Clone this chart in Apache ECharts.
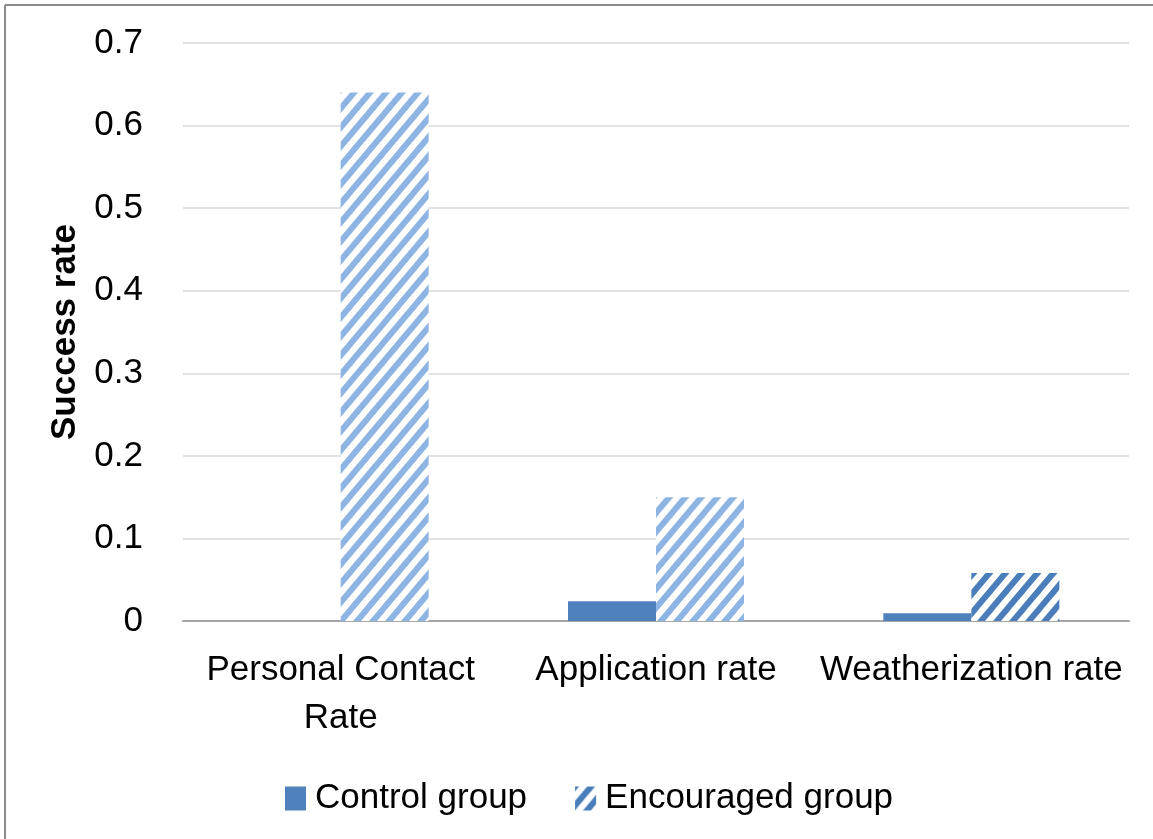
<!DOCTYPE html>
<html>
<head>
<meta charset="utf-8">
<script src="https://cdn.jsdelivr.net/npm/echarts@6/dist/echarts.min.js"></script>
<style>
html,body{margin:0;padding:0;background:#fff;}
#chart{width:1153px;height:839px;}
</style>
</head>
<body>
<div id="chart"></div>
<script>
const categories = ['Personal Contact\nRate', 'Application rate', 'Weatherization rate'];
const controlGroup = [0, 0.024, 0.0095];
const encouragedGroup = [0.64, 0.15, 0.058];
const seriesNames = ['Control group', 'Encouraged group'];
const yTicks = { min: 0, max: 0.7, interval: 0.1 };

function makeHatch(color) {
  const W = 16, H = 19;
  const c = document.createElement('canvas');
  c.width = W; c.height = H;
  const ctx = c.getContext('2d');
  ctx.fillStyle = '#ffffff';
  ctx.fillRect(0, 0, W, H);
  ctx.strokeStyle = color;
  ctx.lineWidth = 6;
  ctx.lineCap = 'butt';
  for (const off of [-W, 0, W]) {
    ctx.beginPath();
    ctx.moveTo(off - 2, H + 2 * H / W);
    ctx.lineTo(off + W + 2, -2 * H / W);
    ctx.stroke();
  }
  return { image: c, repeat: 'repeat' };
}

const lightHatch = makeHatch('#8db4e2');
const darkHatch = makeHatch('#4a7ebb');
const FONT = "'Liberation Sans', Arial, sans-serif";

const chart = echarts.init(document.getElementById('chart'));
chart.setOption({
  backgroundColor: '#ffffff',
  animation: false,
  grid: { left: 183, right: 24, top: 43, bottom: 218 },
  legend: {
    left: 280,
    top: 776,
    itemWidth: 21,
    itemHeight: 24,
    itemGap: 48,
    icon: 'rect',
    textStyle: { fontFamily: FONT, fontSize: 35, color: '#000', padding: [0, 0, 0, 4] },
    data: seriesNames
  },
  xAxis: {
    type: 'category',
    data: categories,
    axisLine: { lineStyle: { color: '#a6a6a6', width: 2 } },
    axisTick: { show: false },
    axisLabel: { fontFamily: FONT, fontSize: 35, color: '#000', lineHeight: 48, margin: 25, interval: 0 }
  },
  yAxis: {
    type: 'value',
    min: yTicks.min, max: yTicks.max, interval: yTicks.interval,
    name: 'Success rate',
    nameLocation: 'middle',
    nameGap: 100,
    nameTextStyle: { fontFamily: FONT, fontSize: 35, fontWeight: 'bold', color: '#000' },
    axisLine: { show: false },
    axisTick: { show: false },
    splitLine: { lineStyle: { color: '#d9d9d9', width: 1.5 } },
    axisLabel: { fontFamily: FONT, fontSize: 35, color: '#000', margin: 40,
      formatter: v => (Math.round(v * 10) / 10).toString() }
  },
  series: [
    {
      name: seriesNames[0],
      type: 'bar',
      data: controlGroup,
      barWidth: 88,
      barGap: '0%',
      itemStyle: { color: '#4f81bd' }
    },
    {
      name: seriesNames[1],
      type: 'bar',
      barWidth: 88,
      barGap: '0%',
      itemStyle: { color: darkHatch },
      data: encouragedGroup.map((v, i) => i < 2 ? { value: v, itemStyle: { color: lightHatch } } : v)
    }
  ],
  graphic: [
    { type: 'line', shape: { x1: 5, y1: 5, x2: 1153, y2: 5 }, style: { stroke: '#8c8c8c', lineWidth: 2 } },
    { type: 'line', shape: { x1: 5, y1: 5, x2: 5, y2: 839 }, style: { stroke: '#8c8c8c', lineWidth: 2 } }
  ]
});
</script>
</body>
</html>
